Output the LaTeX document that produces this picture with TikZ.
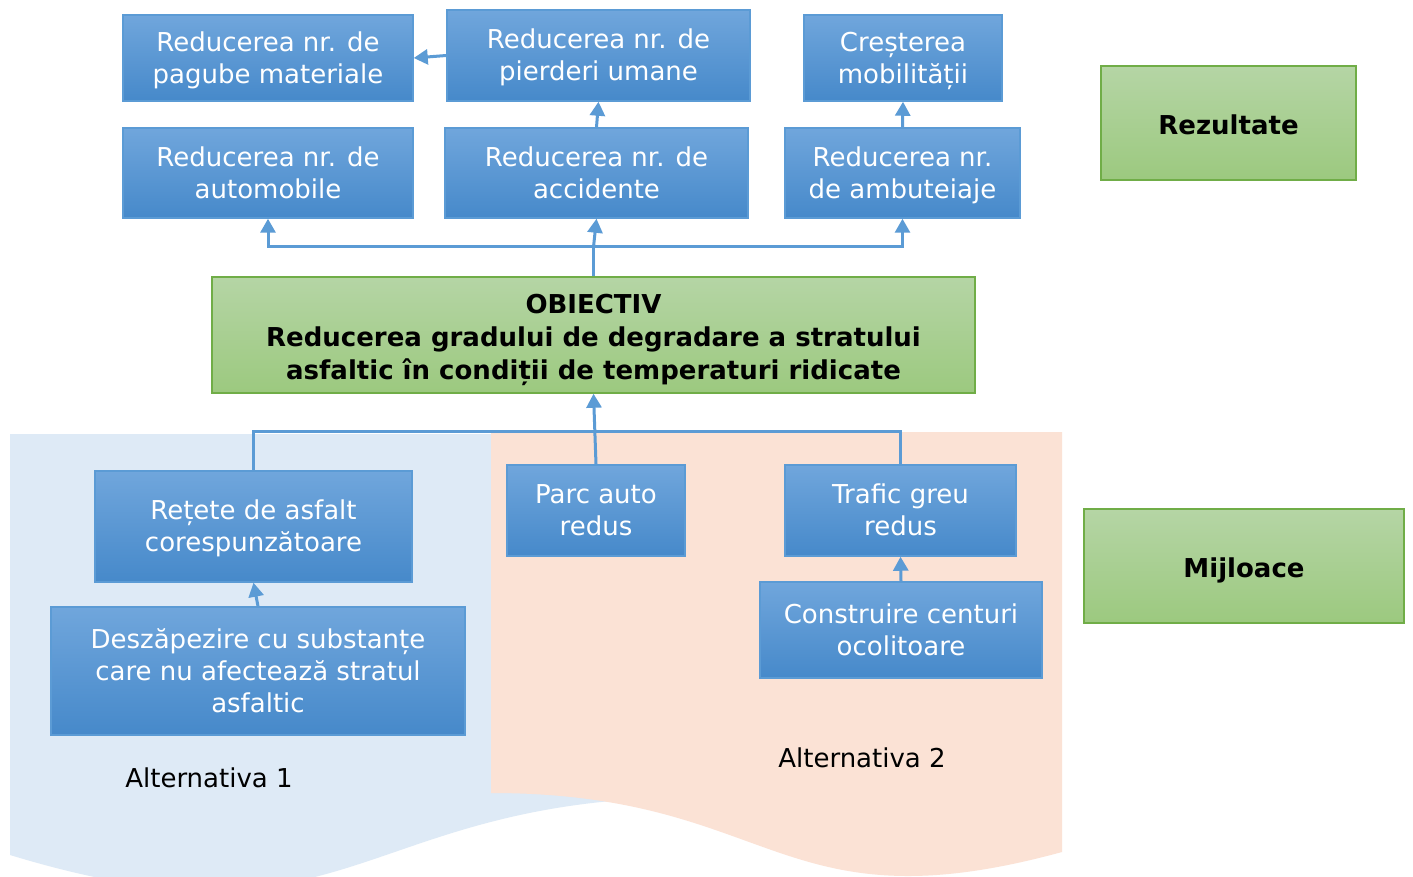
\documentclass[tikz,border=0pt]{standalone}
\usepackage{fontspec}
\setmainfont{DejaVu Sans}
\usetikzlibrary{arrows.meta}
\definecolor{bxtop}{RGB}{112,166,220}
\definecolor{bxbot}{RGB}{70,137,202}
\definecolor{bxline}{RGB}{91,155,213}
\definecolor{grtop}{RGB}{181,213,165}
\definecolor{grbot}{RGB}{156,201,127}
\definecolor{grline}{RGB}{112,173,71}
\definecolor{bgblue}{RGB}{222,234,246}
\definecolor{bgorange}{RGB}{251,226,213}
\definecolor{conn}{RGB}{91,155,213}
\newcommand\mlt[2][-3pt]{\raisebox{#1}[\height][\depth]{\begin{tabular}{@{}c@{}}#2\end{tabular}}}
\begin{document}
\begin{tikzpicture}[x=1pt,y=-1pt,
 bluebox/.style={draw=bxline, line width=1.5pt, top color=bxtop, bottom color=bxbot, text=white, font=\fontsize{26}{32}\selectfont, inner sep=0pt},
 greenbox/.style={draw=grline, line width=1.5pt, top color=grtop, bottom color=grbot, text=black, font=\bfseries\fontsize{26}{33}\selectfont, inner sep=0pt},
 conline/.style={draw=conn, line width=3pt},
 arr/.style={conline, -{Triangle[width=15pt,length=14pt]}},
 alttext/.style={font=\fontsize{26}{32}\selectfont, text=black, inner sep=0pt}
]
\fill[white] (0,0) rectangle (1413,877);
\useasboundingbox (0,0) rectangle (1413,877);
% background document shapes
\fill[bgblue] (10,434) -- (700,434) -- (700,797) .. controls (355,797) and (355,960) .. (10,855) -- cycle;
\fill[bgorange] (491,432) -- (1062,432) -- (1062,852) .. controls (776.5,930) and (776.5,793) .. (491,793) -- cycle;
% results
\node[bluebox, minimum width=290pt, minimum height=86pt] (pag) at (268,58) {\mlt{Reducerea nr. de\\pagube materiale}};
\node[bluebox, minimum width=303pt, minimum height=91pt] (pier) at (598.5,55.5) {\mlt{Reducerea nr. de\\pierderi umane}};
\node[bluebox, minimum width=198pt, minimum height=86pt] (mob) at (903,58) {\mlt{Creșterea\\mobilității}};
\node[bluebox, minimum width=290pt, minimum height=90pt] (auto) at (268,173) {\mlt{Reducerea nr. de\\automobile}};
\node[bluebox, minimum width=303pt, minimum height=90pt] (acc) at (596.5,173) {\mlt{Reducerea nr. de\\accidente}};
\node[bluebox, minimum width=235pt, minimum height=90pt] (amb) at (902.5,173) {\mlt{Reducerea nr.\\de ambuteiaje}};
\node[greenbox, minimum width=255pt, minimum height=114pt] (rez) at (1228.5,123) {\mlt[-5pt]{Rezultate}};
% objective
\node[greenbox, minimum width=763pt, minimum height=116pt] (obj) at (593.5,335) {\mlt[-5pt]{OBIECTIV\\Reducerea gradului de degradare a stratului\\asfaltic în condiții de temperaturi ridicate}};
% means
\node[bluebox, minimum width=317pt, minimum height=111pt] (ret) at (253.5,526.5) {\mlt{Rețete de asfalt\\corespunzătoare}};
\node[bluebox, minimum width=414pt, minimum height=128pt] (desz) at (258,671) {\mlt{Deszăpezire cu substanțe\\care nu afectează stratul\\asfaltic}};
\node[bluebox, minimum width=178pt, minimum height=91pt] (parc) at (596,510.5) {\mlt{Parc auto\\redus}};
\node[bluebox, minimum width=231pt, minimum height=91pt] (traf) at (900.5,510.5) {\mlt{Trafic greu\\redus}};
\node[bluebox, minimum width=282pt, minimum height=96pt] (cons) at (901,630) {\mlt{Construire centuri\\ocolitoare}};
\node[greenbox, minimum width=320pt, minimum height=114pt] (mij) at (1244,566) {\mlt[-5pt]{Mijloace}};
\node[alttext] (alt1) at (209,778) {Alternativa 1};
\node[alttext] (alt2) at (862,758) {Alternativa 2};
% connectors top
\draw[arr] (pier.west) -- (pag.east);
\draw[arr] (acc.north) -- (pier.south);
\draw[arr] (amb.north) -- (mob.south);
\coordinate (ytop) at (0,247);
\coordinate (jt) at (obj.north |- ytop);
\draw[conline] (obj.north) -- (jt);
\draw[arr] (jt) -| (auto.south);
\draw[arr] (jt) -- (acc.south);
\draw[arr] (jt) -| (amb.south);
% connectors bottom
\coordinate (ybot) at (0,431);
\coordinate (jb) at (parc.north |- ybot);
\draw[conline] (ret.north) |- (jb);
\draw[conline] (traf.north) |- (jb);
\draw[arr] (parc.north) -- (obj.south);
\draw[arr] (desz.north) -- (ret.south);
\draw[arr] (cons.north) -- (traf.south);
\end{tikzpicture}
\end{document}
